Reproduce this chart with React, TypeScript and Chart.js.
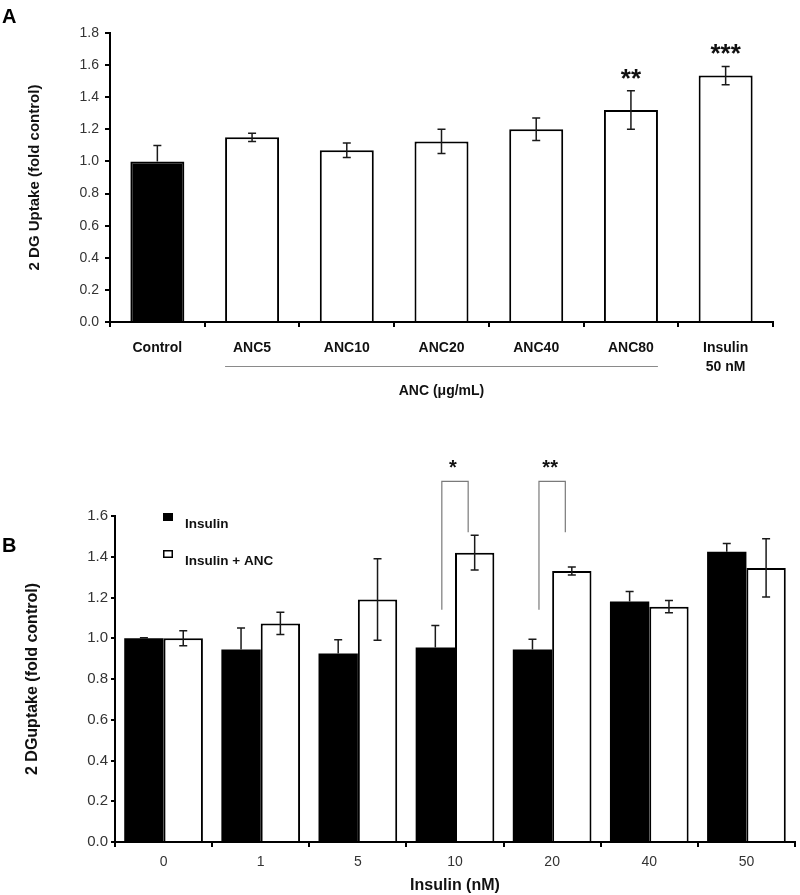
import React, { useEffect, useRef } from "react";
import { Chart, registerables } from "chart.js";

Chart.register(...registerables);

const SANS = "'Liberation Sans', Arial, Helvetica, sans-serif";

// ---------- Panel A data ----------
const aCategories: (string | string[])[] = ["Control", "ANC5", "ANC10", "ANC20", "ANC40", "ANC80", ["Insulin", "50 nM"]];
const aValues = [1.0, 1.15, 1.07, 1.125, 1.2, 1.32, 1.535];
const aErrors = [0.1, 0.025, 0.045, 0.075, 0.07, 0.12, 0.057];
const aFills = ["#000000", "#ffffff", "#ffffff", "#ffffff", "#ffffff", "#ffffff", "#ffffff"];
const aSignificance = ["", "", "", "", "", "**", "***"];
const aGroupRange = [1, 5];
const aYTitle = "2 DG Uptake (fold control)";
const aXTitle = "ANC (\u03bcg/mL)";
const aYMax = 1.8;
const aYStep = 0.2;

// ---------- Panel B data ----------
const bCategories = ["0", "1", "5", "10", "20", "40", "50"];
const bInsulin = [1.0, 0.945, 0.925, 0.955, 0.945, 1.18, 1.425];
const bInsulinErr = [0.003, 0.105, 0.068, 0.107, 0.05, 0.05, 0.04];
const bInsulinANC = [1.0, 1.073, 1.19, 1.42, 1.33, 1.155, 1.345];
const bInsulinANCErr = [0.037, 0.055, 0.2, 0.085, 0.02, 0.03, 0.143];
const bSeriesLabels = ["Insulin", "Insulin + ANC"];
const bSeriesFills = ["#000000", "#ffffff"];
const bComparisonIndex = [3, 4];
const bComparisonLabel = ["*", "**"];
const bBracketLeftEnd = 1.14;
const bBracketRightEnd = 1.52;
const bBracketTop = 1.77;
const bYTitle = "2 DGuptake (fold control)";
const bXTitle = "Insulin (nM)";
const bYMax = 1.6;
const bYStep = 0.2;

function drawErrorBar(ctx: CanvasRenderingContext2D, x: number, yTop: number, yMid: number, yBottom: number, lower: boolean) {
  const cap = 4;
  ctx.beginPath();
  ctx.moveTo(x, yTop);
  ctx.lineTo(x, lower ? yBottom : yMid);
  ctx.moveTo(x - cap, yTop);
  ctx.lineTo(x + cap, yTop);
  if (lower) {
    ctx.moveTo(x - cap, yBottom);
    ctx.lineTo(x + cap, yBottom);
  }
  ctx.stroke();
}

const isDark = (c: string) => c.toLowerCase() === "#000000" || c.toLowerCase() === "#000";

const panelAExtras = {
  id: "panelAExtras",
  afterDatasetsDraw(chart: any) {
    const { ctx, chartArea } = chart;
    const y = chart.scales.y;
    const meta = chart.getDatasetMeta(0);
    ctx.save();
    ctx.strokeStyle = "#1a1a1a";
    ctx.lineWidth = 1.5;
    meta.data.forEach((bar: any, i: number) => {
      drawErrorBar(
        ctx,
        bar.x,
        y.getPixelForValue(aValues[i] + aErrors[i]),
        y.getPixelForValue(aValues[i]),
        y.getPixelForValue(aValues[i] - aErrors[i]),
        !isDark(aFills[i])
      );
    });
    // significance stars
    ctx.fillStyle = "#111";
    ctx.font = `bold 26px ${SANS}`;
    ctx.textAlign = "center";
    ctx.textBaseline = "alphabetic";
    meta.data.forEach((bar: any, i: number) => {
      if (!aSignificance[i]) return;
      const top = y.getPixelForValue(aValues[i] + aErrors[i]);
      const center = top - 19;
      ctx.fillText(aSignificance[i], bar.x, center + 0.58 * 26);
    });
    // group underline
    const first = meta.data[aGroupRange[0]];
    const last = meta.data[aGroupRange[1]];
    const ly = chartArea.bottom + 44.5;
    ctx.strokeStyle = "#8a8a8a";
    ctx.lineWidth = 1;
    ctx.beginPath();
    ctx.moveTo(first.x - first.width / 2, ly);
    ctx.lineTo(last.x + last.width / 2, ly);
    ctx.stroke();
    ctx.restore();
  },
};

const panelBExtras = {
  id: "panelBExtras",
  afterDatasetsDraw(chart: any) {
    const { ctx, chartArea } = chart;
    const y = chart.scales.y;
    const m0 = chart.getDatasetMeta(0);
    const m1 = chart.getDatasetMeta(1);
    ctx.save();
    ctx.strokeStyle = "#1a1a1a";
    ctx.lineWidth = 1.5;
    m0.data.forEach((bar: any, i: number) => {
      drawErrorBar(ctx, bar.x, y.getPixelForValue(bInsulin[i] + bInsulinErr[i]), y.getPixelForValue(bInsulin[i]), y.getPixelForValue(bInsulin[i] - bInsulinErr[i]), !isDark(bSeriesFills[0]));
    });
    m1.data.forEach((bar: any, i: number) => {
      drawErrorBar(ctx, bar.x, y.getPixelForValue(bInsulinANC[i] + bInsulinANCErr[i]), y.getPixelForValue(bInsulinANC[i]), y.getPixelForValue(bInsulinANC[i] - bInsulinANCErr[i]), !isDark(bSeriesFills[1]));
    });
    // comparison brackets
    bComparisonIndex.forEach((idx, k) => {
      const xl = m0.data[idx].x + 6.5;
      const xr = m1.data[idx].x - 6.5;
      const yt = y.getPixelForValue(bBracketTop);
      ctx.strokeStyle = "#7a7a7a";
      ctx.lineWidth = 1.2;
      ctx.beginPath();
      ctx.moveTo(xl, y.getPixelForValue(bBracketLeftEnd));
      ctx.lineTo(xl, yt);
      ctx.lineTo(xr, yt);
      ctx.lineTo(xr, y.getPixelForValue(bBracketRightEnd));
      ctx.stroke();
      ctx.fillStyle = "#111";
      ctx.font = `bold 20px ${SANS}`;
      ctx.textAlign = "center";
      ctx.textBaseline = "alphabetic";
      ctx.fillText(bComparisonLabel[k], (xl + xr) / 2 - 2, yt - 19 + 0.58 * 20);
    });
    // legend
    const lx = chartArea.left + 48;
    const tx = chartArea.left + 70;
    const rows = [chartArea.top + 8, chartArea.top + 45];
    chart.data.datasets.forEach((ds: any, i: number) => {
      const ty = rows[i];
      ctx.fillStyle = ds.backgroundColor;
      ctx.fillRect(lx, ty - 11, 10, 8);
      if (ds.borderWidth) {
        ctx.strokeStyle = "#000";
        ctx.lineWidth = 1.5;
        ctx.strokeRect(lx + 0.75, ty - 10.25, 8.5, 6.5);
      }
      ctx.fillStyle = "#111";
      ctx.font = `bold 13.5px ${SANS}`;
      ctx.textAlign = "left";
      ctx.textBaseline = "middle";
      ctx.fillText(ds.label, tx, ty);
    });
    ctx.restore();
  },
};

export default function App() {
  const refA = useRef<HTMLCanvasElement | null>(null);
  const refB = useRef<HTMLCanvasElement | null>(null);

  useEffect(() => {
    if (!refA.current || !refB.current) return;

    const chartA = new Chart(refA.current, {
      type: "bar",
      data: {
        labels: aCategories as any,
        datasets: [
          {
            label: "2 DG uptake",
            data: aValues,
            backgroundColor: aFills,
            borderColor: "#000",
            borderWidth: 2,
            barPercentage: 0.57,
            categoryPercentage: 1,
          },
        ],
      },
      options: {
        responsive: false,
        animation: false,
        layout: { padding: { top: 33, right: 27, left: 0, bottom: 0 } },
        plugins: { legend: { display: false }, tooltip: { enabled: false } },
        scales: {
          x: {
            grid: { display: true, drawOnChartArea: false, drawTicks: true, tickLength: 5, color: "#000", lineWidth: 2, offset: true },
            border: { display: true, color: "#000", width: 2 },
            ticks: { color: "#111", font: { family: SANS, size: 14, weight: "bold", lineHeight: 1.4 }, padding: 11, maxRotation: 0, autoSkip: false },
            title: { display: true, text: aXTitle, color: "#111", font: { family: SANS, size: 14, weight: "bold" }, padding: { top: 0, bottom: 40 } },
            afterFit: (s: any) => { s.height = 118; },
          },
          y: {
            min: 0,
            max: aYMax,
            ticks: { stepSize: aYStep, color: "#333", font: { family: SANS, size: 14 }, padding: 6, callback: (v: any) => Number(v).toFixed(1) },
            grid: { display: true, drawOnChartArea: false, drawTicks: true, tickLength: 5, color: "#000", lineWidth: 2 },
            border: { display: true, color: "#000", width: 2 },
            title: { display: true, text: aYTitle, color: "#111", font: { family: SANS, size: 15, weight: "bold" }, padding: { top: 26, bottom: 0 } },
            afterFit: (s: any) => { s.width = 110; },
          },
        },
      },
      plugins: [panelAExtras],
    } as any);

    const chartB = new Chart(refB.current, {
      type: "bar",
      data: {
        labels: bCategories,
        datasets: [
          {
            label: bSeriesLabels[0],
            data: bInsulin,
            backgroundColor: bSeriesFills[0],
            borderColor: "#000",
            borderWidth: 0,
            barPercentage: 1,
            categoryPercentage: 0.81,
          },
          {
            label: bSeriesLabels[1],
            data: bInsulinANC,
            backgroundColor: bSeriesFills[1],
            borderColor: "#000",
            borderWidth: 2,
            barPercentage: 1,
            categoryPercentage: 0.81,
          },
        ],
      },
      options: {
        responsive: false,
        animation: false,
        layout: { padding: { top: 76, right: 5, left: 0, bottom: 0 } },
        plugins: { legend: { display: false }, tooltip: { enabled: false } },
        scales: {
          x: {
            grid: { display: true, drawOnChartArea: false, drawTicks: true, tickLength: 5, color: "#000", lineWidth: 2, offset: true },
            border: { display: true, color: "#000", width: 2 },
            ticks: { color: "#333", font: { family: SANS, size: 14 }, padding: 7, maxRotation: 0, autoSkip: false },
            title: { display: true, text: bXTitle, color: "#111", font: { family: SANS, size: 16, weight: "bold" }, padding: { top: 0, bottom: 0 } },
            afterFit: (s: any) => { s.height = 53; },
          },
          y: {
            min: 0,
            max: bYMax,
            ticks: { stepSize: bYStep, color: "#333", font: { family: SANS, size: 15 }, padding: 3, callback: (v: any) => Number(v).toFixed(1) },
            grid: { display: true, drawOnChartArea: false, drawTicks: true, tickLength: 4, color: "#000", lineWidth: 2 },
            border: { display: true, color: "#000", width: 2 },
            title: { display: true, text: bYTitle, color: "#111", font: { family: SANS, size: 16, weight: "bold" }, padding: { top: 23, bottom: 0 } },
            afterFit: (s: any) => { s.width = 115; },
          },
        },
      },
      plugins: [panelBExtras],
    } as any);

    return () => {
      chartA.destroy();
      chartB.destroy();
    };
  }, []);

  const letter: React.CSSProperties = {
    position: "absolute",
    fontFamily: SANS,
    fontWeight: "bold",
    fontSize: 20,
    lineHeight: "20px",
    color: "#000",
  };

  return (
    <div style={{ position: "absolute", left: 0, top: 0, width: 800, height: 895, background: "#fff", overflow: "hidden" }}>
      <canvas ref={refA} width={800} height={440} style={{ position: "absolute", left: 0, top: 0, width: 800, height: 440 }} />
      <canvas ref={refB} width={800} height={455} style={{ position: "absolute", left: 0, top: 440, width: 800, height: 455 }} />
      <div style={{ ...letter, left: 2, top: 6 }}>A</div>
      <div style={{ ...letter, left: 2, top: 535 }}>B</div>
    </div>
  );
}
